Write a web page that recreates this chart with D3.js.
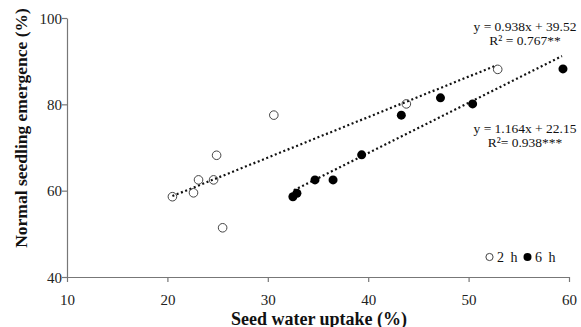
<!DOCTYPE html>
<html>
<head>
<meta charset="utf-8">
<script src="https://cdn.jsdelivr.net/npm/d3@7"></script>
<style>
  body { margin: 0; background: #fff; }
  svg { display: block; font-family: "Liberation Serif", "Times New Roman", serif; }
</style>
</head>
<body>
<svg id="chart" width="581" height="327"></svg>
<script>
// open circles, 2 h imbibition
let uptake2h = [20.5, 22.6, 23.1, 24.6, 24.9, 25.5, 30.6, 43.8, 52.9];
let emergence2h = [58.6, 59.5, 62.5, 62.5, 68.2, 51.4, 77.5, 80.1, 88.1];
// filled circles, 6 h imbibition
let uptake6h = [32.5, 32.9, 34.7, 36.5, 39.35, 43.3, 47.2, 50.4, 59.4];
let emergence6h = [58.6, 59.4, 62.5, 62.5, 68.3, 77.5, 81.5, 80.1, 88.2];

let fits = [
    {slope: 0.938, intercept: 39.52, from: 20.5, to: 52.8, eq: "y = 0.938x + 39.52", r2: "R² = 0.767**"},
    {slope: 1.164, intercept: 22.15, from: 32.6, to: 59.3, eq: "y = 1.164x + 22.15", r2: "R²= 0.938***"}
];
let xTicks = [10, 20, 30, 40, 50, 60];
let yTicks = [40, 60, 80, 100];

let svg = d3.select("#chart");
let margin = {top: 18, right: 12, bottom: 50, left: 67};
let width = 569 - margin.left;
let height = 277 - margin.top;
let g = svg.append("g").attr("transform", "translate(" + margin.left + "," + margin.top + ")");

let x = d3.scaleLinear().domain([10, 60]).range([0, width]);
let y = d3.scaleLinear().domain([40, 100]).range([height, 0]);

let xAxis = g.append("g")
    .attr("transform", "translate(0," + height + ")")
    .call(d3.axisBottom(x).tickValues(xTicks).tickSize(5).tickSizeOuter(0));
let yAxis = g.append("g")
    .call(d3.axisLeft(y).tickValues(yTicks).tickSize(5).tickSizeOuter(0));

[xAxis, yAxis].forEach(a => {
    a.select(".domain").attr("stroke", "#777").attr("stroke-width", 1.2);
    a.selectAll(".tick line").attr("stroke", "#777").attr("stroke-width", 1.2);
    a.selectAll(".tick text")
        .attr("font-family", "Liberation Serif")
        .attr("font-size", 15)
        .attr("fill", "#222");
});
xAxis.selectAll(".tick text").attr("dy", "1.35em");
yAxis.selectAll(".tick text").attr("x", -5).attr("dy", "0.35em");

// regression lines
let line = d3.line().x(d => x(d[0])).y(d => y(d[1]));
g.selectAll(".fit")
    .data(fits)
    .enter().append("path")
    .attr("class", "fit")
    .attr("d", f => line([[f.from, f.slope * f.from + f.intercept], [f.to, f.slope * f.to + f.intercept]]))
    .attr("fill", "none")
    .attr("stroke", "#111")
    .attr("stroke-width", 2.2)
    .attr("stroke-dasharray", "2,2.6");

// points
g.selectAll(".p2")
    .data(uptake2h.map((v, i) => [v, emergence2h[i]]))
    .enter().append("circle")
    .attr("cx", d => x(d[0]))
    .attr("cy", d => y(d[1]))
    .attr("r", 4.3)
    .attr("fill", "none")
    .attr("stroke", "#444")
    .attr("stroke-width", 1);

g.selectAll(".p6")
    .data(uptake6h.map((v, i) => [v, emergence6h[i]]))
    .enter().append("circle")
    .attr("cx", d => x(d[0]))
    .attr("cy", d => y(d[1]))
    .attr("r", 4.5)
    .attr("fill", "#000");

// equations
let eqPos = [{cx: 525, y1: 31, y2: 45}, {cx: 525, y1: 133, y2: 147}];
fits.forEach((f, i) => {
    let t = svg.append("g").attr("font-size", 13.5).attr("fill", "#111").attr("text-anchor", "middle");
    t.append("text").attr("x", eqPos[i].cx).attr("y", eqPos[i].y1).text(f.eq);
    t.append("text").attr("x", eqPos[i].cx).attr("y", eqPos[i].y2).text(f.r2);
});

// legend
let legend = svg.append("g").attr("font-size", 14).attr("fill", "#111");
legend.append("circle").attr("cx", 489.5).attr("cy", 257).attr("r", 3.6)
    .attr("fill", "none").attr("stroke", "#444").attr("stroke-width", 1);
legend.append("text").attr("x", 497).attr("y", 262).attr("letter-spacing", 1.5).text("2 h");
legend.append("circle").attr("cx", 527.5).attr("cy", 257).attr("r", 4).attr("fill", "#000");
legend.append("text").attr("x", 535).attr("y", 262).attr("letter-spacing", 1.5).text("6 h");

// axis titles
svg.append("text")
    .attr("x", 319).attr("y", 324.5)
    .attr("text-anchor", "middle")
    .attr("font-weight", "bold")
    .attr("font-size", 18)
    .attr("fill", "#111")
    .text("Seed water uptake (%)");

svg.append("text")
    .attr("transform", "translate(27,128) rotate(-90)")
    .attr("text-anchor", "middle")
    .attr("font-weight", "bold")
    .attr("font-size", 17.5)
    .attr("fill", "#111")
    .text("Normal seedling emergence (%)");
</script>
</body>
</html>
